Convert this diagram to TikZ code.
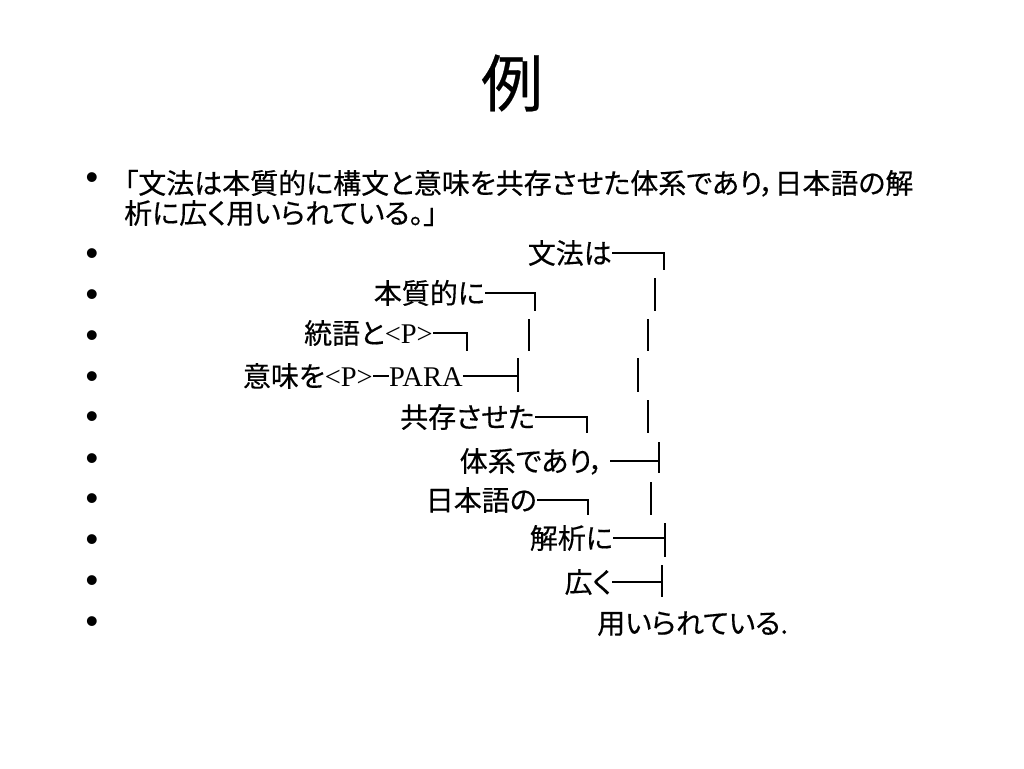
\documentclass[tikz,border=0pt]{standalone}
\usepackage{fontspec}
\setmainfont{Liberation Serif}
\newfontfamily\jp[FakeBold=0.4,RawFeature=+palt]{Noto Sans CJK JP}
\newfontfamily\bul{Liberation Sans}
\begin{document}
\begin{tikzpicture}[x=1pt,y=-1pt,
  word/.style={inner sep=0pt,font=\jp\fontsize{28}{32}\selectfont,text height=24.6pt,text depth=3.4pt},
  latin/.style={font=\rmfamily\fontsize{28.5}{32}\selectfont},
  link/.style={line width=1.7pt},
  dot/.style={inner sep=0pt,font=\bul\fontsize{36}{40}\selectfont}]
\useasboundingbox (0,0) rectangle (1024,768);
\node[inner sep=0pt,font=\jp\fontsize{62}{70}\selectfont] (title) at (512,83) {例};
\foreach \y in {181,257,298,339,380,420,462,502,543,584,625}
  \node[dot] at (92,\y) {•};
\node[word,anchor=west] (intro) at (124,183) {「文法は本質的に構文と意味を共存させた体系であり，日本語の解};
\node[word,anchor=west] (introb) at (124,213) {析に広く用いられている。」};
\node[word,anchor=east] (bunpou) at (612,253) {文法は};
\node[word,anchor=east] (honshitsu) at (485,293) {本質的に};
\node[word,anchor=east] (tougo) at (433,333) {統語と{\rmfamily\fontsize{28.5}{32}\selectfont<P>}};
\node[word,anchor=east] (imi) at (373,376) {意味を{\rmfamily\fontsize{28.5}{32}\selectfont<P>}};
\node[word,anchor=west,latin] (para) at (389,376) {PARA};
\node[word,anchor=east] (kyouzon) at (535,417) {共存させた};
\node[word,anchor=east] (taikei) at (604,461) {体系であり，};
\node[word,anchor=east] (nihongo) at (537,500) {日本語の};
\node[word,anchor=east] (kaiseki) at (613,538) {解析に};
\node[word,anchor=east] (hiroku) at (612,582) {広く};
\node[word,anchor=west] (mochi) at (597,623) {用いられている.};
\coordinate (e1) at (664,270);
\coordinate (e2) at (535,311);
\coordinate (e3) at (467,351);
\coordinate (e4) at (518,376);
\coordinate (e5) at (587,433);
\coordinate (e6) at (659,461);
\coordinate (e7) at (588,515);
\coordinate (e8) at (665,538);
\coordinate (e9) at (662,582);
\draw[link] (bunpou.east) -| (e1);
\draw[link] (honshitsu.east) -| (e2);
\draw[link] (tougo.east) -| (e3);
\draw[link] (imi.east) -- (para.west);
\draw[link] (para.east) -- (e4);
\draw[link] (kyouzon.east) -| (e5);
\draw[link] ([xshift=6pt]taikei.east) -- (e6);
\draw[link] (nihongo.east) -| (e7);
\draw[link] (kaiseki.east) -- (e8);
\draw[link] (hiroku.east) -- (e9);
\foreach \x/\ya/\yb in {655/278/311,529/319/351,648/319/351,518/358/392,638/358/392,
  648/400/433,659/442/473,651/482/515,665/523/557,662/565/597}
  \draw[link] (\x,\ya) -- (\x,\yb);
\end{tikzpicture}
\end{document}
